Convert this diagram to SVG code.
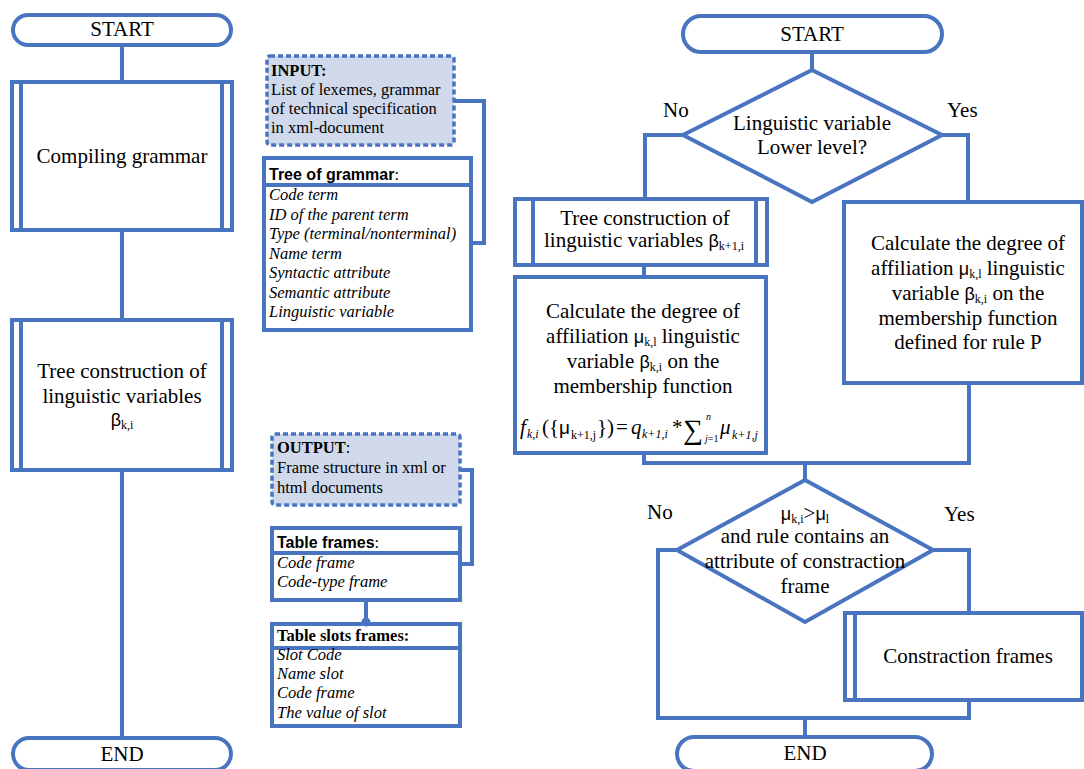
<svg xmlns="http://www.w3.org/2000/svg" width="1084" height="769" viewBox="0 0 1084 769">
<defs>
<style>
.ln{fill:none;stroke:#4874C0;stroke-width:4;stroke-linejoin:miter}
.bx{fill:#fff;stroke:#4874C0;stroke-width:4}
.io{fill:#CFD9EB;stroke:#4874C0;stroke-width:3.5;stroke-dasharray:5 3}
.t{font-family:"Liberation Serif","Times New Roman",serif;font-size:21px;fill:#000}
.c{text-anchor:middle}
.m{font-family:"Liberation Serif","Times New Roman",serif;font-size:16.5px;fill:#000}
.i{font-style:italic}
.b{font-weight:bold}
.s{font-family:"Liberation Sans",Arial,sans-serif}
.sub{font-size:12px}
.sm{font-size:10px}
</style>
</defs>
<g id="start-left">
<rect class="bx" x="13" y="15" width="218" height="30" rx="15"/>
<text class="t c" x="122" y="36">START</text>
</g>
<g id="compiling-grammar">
<rect class="bx" x="12" y="82" width="220" height="148"/>
<path class="ln" d="M21,82 V230 M222,82 V230"/>
<text class="t c" x="122" y="163">Compiling grammar</text>
</g>
<g id="tree-left">
<rect class="bx" x="12" y="320" width="220" height="150"/>
<path class="ln" d="M21,320 V470 M222,320 V470"/>
<text class="t c" x="122" y="378">Tree construction of</text>
<text class="t c" x="122" y="403">linguistic variables</text>
<text class="t c" x="122" y="426"><tspan class="s" style="font-size:18px">β</tspan><tspan class="sub" dy="3">k,i</tspan></text>
</g>
<g id="end-left">
<rect class="bx" x="13" y="738" width="218" height="32" rx="16"/>
<text class="t c" x="122" y="761">END</text>
</g>
<g id="input">
<rect class="io" x="267" y="56" width="187" height="89" rx="3"/>
<text class="m b" x="271" y="76">INPUT:</text>
<text class="m" x="271" y="95">List of lexemes, grammar</text>
<text class="m" x="271" y="114">of technical specification</text>
<text class="m" x="271" y="133">in xml-document</text>
</g>
<g id="tree-of-grammar">
<rect class="bx" x="264" y="158" width="207" height="172"/>
<path class="ln" d="M264,185 H471" stroke-width="3"/>
<text class="m" x="269" y="180"><tspan class="s b" style="font-size:16px">Tree of grammar</tspan>:</text>
<text class="m i" x="269" y="200">Code term</text>
<text class="m i" x="269" y="220">ID of the parent term</text>
<text class="m i" x="269" y="239">Type (terminal/nonterminal)</text>
<text class="m i" x="269" y="259">Name term</text>
<text class="m i" x="269" y="278">Syntactic attribute</text>
<text class="m i" x="269" y="298">Semantic attribute</text>
<text class="m i" x="269" y="317">Linguistic variable</text>
</g>
<g id="output">
<rect class="io" x="272" y="434" width="188" height="71" rx="3"/>
<text class="m b" x="277" y="453">OUTPUT<tspan style="font-weight:normal">:</tspan></text>
<text class="m" x="277" y="473">Frame structure in xml or</text>
<text class="m" x="277" y="493">html documents</text>
</g>
<g id="table-frames">
<rect class="bx" x="272" y="528" width="188" height="72"/>
<path class="ln" d="M272,553 H460" stroke-width="3"/>
<text class="m" x="277" y="548"><tspan class="s b" style="font-size:16px">Table frames</tspan>:</text>
<text class="m i" x="277" y="568">Code frame</text>
<text class="m i" x="277" y="587">Code-type frame</text>
</g>
<g id="table-slots-frames">
<rect class="bx" x="272" y="624" width="188" height="102"/>
<path class="ln" d="M272,648 H460" stroke-width="3"/>
<text class="m b" x="277" y="641">Table slots frames:</text>
<text class="m i" x="277" y="660">Slot Code</text>
<text class="m i" x="277" y="679">Name slot</text>
<text class="m i" x="277" y="698">Code frame</text>
<text class="m i" x="277" y="718">The value of slot</text>
</g>
<g id="start-right">
<rect class="bx" x="683" y="16" width="259" height="36" rx="18"/>
<text class="t c" x="812" y="41">START</text>
</g>
<g id="decision-1">
<polygon class="bx" points="812,70 942,135 812,202 683,135"/>
<text class="t c" x="812" y="130">Linguistic variable</text>
<text class="t c" x="812" y="154">Lower level?</text>
<text class="t" x="663" y="117">No</text>
<text class="t" x="947" y="117">Yes</text>
</g>
<g id="tree-right">
<rect class="bx" x="515" y="199" width="252" height="66"/>
<path class="ln" d="M533,199 V265 M756,199 V265"/>
<text class="t c" x="645" y="225">Tree construction of</text>
<text class="t c" x="644" y="247">linguistic variables <tspan class="s" style="font-size:18px">β</tspan><tspan class="sub" dy="3">k+1,i</tspan></text>
</g>
<g id="calc-left">
<rect class="bx" x="515" y="277" width="251" height="176"/>
<text class="t c" x="643" y="318">Calculate the degree of</text>
<text class="t c" x="643" y="343">affiliation <tspan class="s" style="font-size:18px">μ</tspan><tspan class="sub" dy="3">k,l</tspan><tspan dy="-3"> linguistic</tspan></text>
<text class="t c" x="643" y="368">variable <tspan class="s" style="font-size:18px">β</tspan><tspan class="sub" dy="3">k,i</tspan><tspan dy="-3"> on the</tspan></text>
<text class="t c" x="643" y="393">membership function</text>
<text class="t i" x="520" y="434">f</text>
<text class="t i sub" x="527" y="438">k,i</text>
<text class="t" x="542" y="434">({</text>
<text class="t s" x="559" y="434" style="font-size:19px">μ</text>
<text class="t sub" x="571" y="439">k+1,j</text>
<text class="t" x="597" y="434">})</text>
<text class="t" x="616" y="434">=</text>
<text class="t i" x="631" y="434">q</text>
<text class="t i sub" x="642" y="438">k+1,i</text>
<text class="t" x="672" y="434">*</text>
<text class="t" x="683" y="439" style="font-size:28px">∑</text>
<text class="t sm" x="705" y="442"><tspan class="i">j</tspan>=1</text>
<text class="t i sm" x="706" y="420">n</text>
<text class="t i" x="720" y="434">μ</text>
<text class="t i sub" x="732" y="439">k+1,j</text>
</g>
<g id="calc-right">
<rect class="bx" x="844" y="202" width="238" height="181"/>
<text class="t c" x="968" y="250">Calculate the degree of</text>
<text class="t c" x="968" y="275">affiliation <tspan class="s" style="font-size:18px">μ</tspan><tspan class="sub" dy="3">k,l</tspan><tspan dy="-3"> linguistic</tspan></text>
<text class="t c" x="968" y="300">variable <tspan class="s" style="font-size:18px">β</tspan><tspan class="sub" dy="3">k,i</tspan><tspan dy="-3"> on the</tspan></text>
<text class="t c" x="968" y="325">membership function</text>
<text class="t c" x="968" y="349">defined for rule P</text>
</g>
<g id="decision-2">
<polygon class="bx" points="805,480 933,550 805,622 677,550"/>
<text class="t c" x="805" y="520"><tspan class="s" style="font-size:18px">μ</tspan><tspan class="sub" dy="3">k,i</tspan><tspan dy="-3">&gt;</tspan><tspan class="s" style="font-size:18px">μ</tspan><tspan class="sub" dy="3">l</tspan></text>
<text class="t c" x="805" y="543">and rule contains an</text>
<text class="t c" x="805" y="568">attribute of constraction</text>
<text class="t c" x="805" y="593">frame</text>
<text class="t" x="647" y="519">No</text>
<text class="t" x="944" y="521">Yes</text>
</g>
<g id="constraction-frames">
<rect class="bx" x="845" y="613" width="237" height="87"/>
<path class="ln" d="M855,613 V700"/>
<text class="t c" x="968" y="663">Constraction frames</text>
</g>
<g id="end-right">
<rect class="bx" x="677" y="737" width="255" height="34" rx="17"/>
<text class="t c" x="805" y="760">END</text>
</g>
<g id="connectors">
<path class="ln" d="M122,45 V82 M122,230 V320 M122,470 V738"/>
<path class="ln" d="M454,101 H484 V243 H471"/>
<path class="ln" d="M460,470 H472 V564 H460"/>
<path class="ln" d="M366,600 V622"/>
<circle cx="366" cy="622" r="4.5" fill="#4874C0"/>
<path class="ln" d="M812,52 V70 M683,135 H645 V199 M942,135 H968 V202 M644,265 V277"/>
<path class="ln" d="M644,453 V463 H969 V383 M805,463 V480"/>
<path class="ln" d="M677,550 H658 V718 H969 V700 M933,550 H969 V613 M805,718 V737"/>
</g>
</svg>
